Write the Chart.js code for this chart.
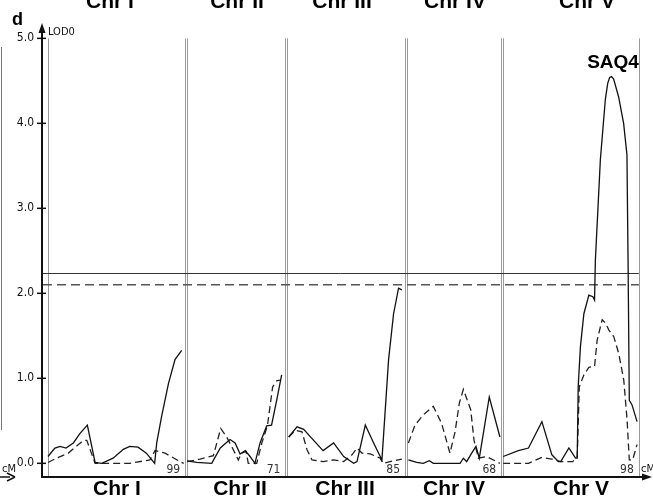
<!DOCTYPE html>
<html>
<head>
<meta charset="utf-8">
<script src="https://cdn.jsdelivr.net/npm/chart.js@4.4.0/dist/chart.umd.min.js"></script>
<style>
  html, body { margin: 0; padding: 0; background: #fff; }
</style>
</head>
<body>
<canvas id="myChart" width="653" height="502"></canvas>
<script>
/* globals Chart:false */
'use strict'

// chromosomes and lengths (cM)
const chrNames = ['Chr I', 'Chr II', 'Chr III', 'Chr IV', 'Chr V']
const chrLengths = [99, 71, 85, 68, 98]
const lodTicks = [0, 1, 2, 3, 4, 5]
const lodTickLabels = ['0.0', '1.0', '2.0', '3.0', '4.0', '5.0']
const thresholdSolid = 2.235
const thresholdDashed = 2.10
const peakLabel = 'SAQ4'

// [cM, LOD], solid curve
const chrISolid = [[0, 0.08], [5, 0.18], [8.7, 0.20], [13, 0.18], [18.3, 0.24], [23, 0.35], [28.4, 0.45], [34, 0.01], [38.8, 0], [47, 0.06], [54.4, 0.165], [59, 0.20], [65, 0.19], [71, 0.12], [77, 0], [78.5, 0.24], [82, 0.55], [87, 0.94], [91.7, 1.22], [96.5, 1.33]]
const chrIISolid = [[0, 0.03], [7, 0.01], [17.8, 0], [24, 0.18], [31, 0.28], [34.7, 0.24], [38.3, 0.11], [42, 0.15], [45.5, 0.08], [49, 0], [52.7, 0.24], [57.5, 0.44], [61, 0.45], [64.7, 0.74], [68.3, 1.04]]
const chrIIISolid = [[1, 0.31], [7, 0.43], [11.8, 0.40], [19, 0.27], [25.8, 0.15], [33.4, 0.24], [40.7, 0.08], [47.9, 0], [50.3, 0.02], [56.3, 0.45], [62.3, 0.24], [68.3, 0.04], [73.1, 1.22], [76.7, 1.76], [80.3, 2.06], [82.7, 2.04]]
const chrIVSolid = [[1, 0.04], [7, 0.01], [11.8, 0], [16.1, 0.03], [19, 0], [38.3, 0], [40.7, 0.06], [43.1, 0.02], [46.7, 0.12], [49.8, 0.20], [52.2, 0.06], [59.4, 0.78], [67.1, 0.31]]
const chrVSolid = [[0, 0.08], [11, 0.15], [18.3, 0.18], [28, 0.49], [35.2, 0.10], [40, 0.02], [41.6, 0.02], [47.5, 0.18], [52.3, 0.06], [53.5, 0.06], [54.2, 0.90], [55.8, 1.37], [58.3, 1.76], [61.9, 1.98], [64.8, 1.96], [66, 1.92], [66.6, 2.39], [70.2, 3.57], [73.8, 4.28], [75.5, 4.47], [76.9, 4.54], [78.3, 4.55], [79.8, 4.52], [83.4, 4.31], [87, 4.00], [89.4, 3.63], [90.2, 2.39], [91.1, 0.74], [93, 0.69], [96.7, 0.49]]

// [cM, LOD], dashed curve
const chrIDashed = [[0, 0.01], [6, 0.06], [14.7, 0.12], [25.5, 0.27], [28, 0.27], [34, 0], [59, 0], [73.6, 0.04], [77.3, 0.15], [84.5, 0.12], [95.3, 0.02], [98, 0]]
const chrIIDashed = [[0, 0.02], [9.4, 0.05], [19, 0.09], [24.3, 0.41], [28.6, 0.31], [33.4, 0.16], [37, 0.04], [39.4, 0.12], [42.6, 0.14], [44.2, 0], [50.3, 0], [54, 0.24], [58, 0.44], [61.8, 0.90], [64.7, 0.97], [67, 0.98]]
const chrIIIDashed = [[1, 0.31], [5.8, 0.39], [10.6, 0.37], [14.2, 0.16], [17.8, 0.04], [25.8, 0.02], [33.4, 0.04], [40.7, 0.02], [46.7, 0.10], [50.3, 0.18], [53.9, 0.12], [59.9, 0.11], [67.1, 0.06], [69, 0], [76.7, 0.03], [82.7, 0.05]]
const chrIVDashed = [[1, 0.24], [5.8, 0.45], [11.8, 0.57], [19, 0.67], [25, 0.47], [31, 0.12], [34.7, 0.37], [37.8, 0.71], [40.7, 0.87], [46, 0.63], [48.4, 0.27], [51.5, 0.06], [57.5, 0.08], [63.5, 0.03], [67, 0]]
const chrVDashed = [[0, 0], [18.3, 0], [28, 0.07], [35.2, 0.05], [41.6, 0.02], [50.3, 0.02], [53.5, 0.08], [55, 0.90], [58.3, 1.04], [61.9, 1.13], [66, 1.14], [67.9, 1.45], [71.5, 1.69], [73.9, 1.65], [76.3, 1.57], [79.9, 1.49], [83.5, 1.29], [87.1, 0.98], [89.5, 0.51], [91.1, 0.04], [93.5, 0.04], [96.7, 0.22]]

const solidCurves = [chrISolid, chrIISolid, chrIIISolid, chrIVSolid, chrVSolid]
const dashedCurves = [chrIDashed, chrIIDashed, chrIIIDashed, chrIVDashed, chrVDashed]

// chromosomes laid side by side with a small gap
const chrGap = 1.4
const chrOffsets = []
let acc = 0
chrLengths.forEach(len => { chrOffsets.push(acc); acc += len + chrGap })

const narrow = "'Liberation Sans Narrow', 'DejaVu Sans Condensed', sans-serif"
const bold = "bold {s}px 'Liberation Sans', Arial, sans-serif"

function toPoints(curve, i) {
  return curve.map(p => ({ x: chrOffsets[i] + p[0], y: p[1] }))
}

const datasets = []
solidCurves.forEach((c, i) => {
  datasets.push({ data: toPoints(c, i), borderColor: '#111', borderWidth: 1.3, pointRadius: 0, tension: 0, fill: false })
})
dashedCurves.forEach((c, i) => {
  datasets.push({ data: toPoints(c, i), borderColor: '#222', borderWidth: 1.3, borderDash: [7, 4], pointRadius: 0, tension: 0, fill: false })
})

function arrow(ctx, x, y, dir) {
  ctx.beginPath()
  if (dir === 'up') { ctx.moveTo(x, y); ctx.lineTo(x - 3.5, y + 10); ctx.lineTo(x + 3.5, y + 10) }
  else { ctx.moveTo(x, y); ctx.lineTo(x - 10, y - 3.5); ctx.lineTo(x - 10, y + 3.5) }
  ctx.closePath()
  ctx.fill()
}

const overlay = {
  id: 'overlay',
  beforeDatasetsDraw(chart) {
    const { ctx, scales: { x, y }, chartArea: a } = chart
    ctx.save()
    // chromosome borders (double grey lines)
    ctx.strokeStyle = '#9a9a9a'
    ctx.lineWidth = 1
    chrLengths.forEach((len, i) => {
      [chrOffsets[i], chrOffsets[i] + len].forEach(v => {
        const px = Math.round(x.getPixelForValue(v)) + 0.5
        ctx.beginPath()
        ctx.moveTo(px, y.getPixelForValue(5))
        ctx.lineTo(px, a.bottom)
        ctx.stroke()
      })
    })
    // thresholds
    const xEnd = x.getPixelForValue(chrOffsets[4] + chrLengths[4])
    ctx.strokeStyle = '#333'
    ctx.lineWidth = 1
    let py = Math.round(y.getPixelForValue(thresholdSolid)) + 0.5
    ctx.beginPath(); ctx.moveTo(a.left, py); ctx.lineTo(xEnd, py); ctx.stroke()
    ctx.strokeStyle = '#555'
    ctx.lineWidth = 1.5
    ctx.setLineDash([9, 5])
    py = y.getPixelForValue(thresholdDashed)
    ctx.beginPath(); ctx.moveTo(a.left + 1, py); ctx.lineTo(xEnd, py); ctx.stroke()
    ctx.restore()
  },
  afterDraw(chart) {
    const { ctx, scales: { x, y }, chartArea: a } = chart
    ctx.save()
    ctx.fillStyle = '#111'
    ctx.strokeStyle = '#111'
    // y axis
    ctx.lineWidth = 2
    ctx.beginPath(); ctx.moveTo(a.left, a.bottom); ctx.lineTo(a.left, a.top + 4); ctx.stroke()
    arrow(ctx, a.left, a.top - 2, 'up')
    // x axis
    ctx.beginPath(); ctx.moveTo(a.left - 1, a.bottom); ctx.lineTo(a.right, a.bottom); ctx.stroke()
    arrow(ctx, a.right + 4, a.bottom, 'right')
    // ticks
    ctx.lineWidth = 1.5
    ctx.font = '12px ' + narrow
    ctx.textAlign = 'right'
    ctx.textBaseline = 'middle'
    lodTicks.forEach((t, i) => {
      const py = y.getPixelForValue(t)
      ctx.beginPath(); ctx.moveTo(a.left - 5, py); ctx.lineTo(a.left + 4, py); ctx.stroke()
      ctx.fillText(lodTickLabels[i], a.left - 8, py)
    })
    // small labels
    ctx.font = '11px ' + narrow
    ctx.textAlign = 'left'
    ctx.textBaseline = 'alphabetic'
    ctx.fillText('LOD0', a.left + 6, 35)
    ctx.fillText('cM', 641, 472)
    ctx.fillText('cM', 2, 472)
    ctx.font = '12px ' + narrow
    ctx.fillStyle = '#333'
    ctx.textAlign = 'right'
    chrLengths.forEach((len, i) => {
      ctx.fillText(String(len), x.getPixelForValue(chrOffsets[i] + len) - 5, 473)
    })
    // left-edge remnants
    ctx.fillStyle = '#111'
    ctx.strokeStyle = '#777'
    ctx.lineWidth = 1
    ctx.beginPath(); ctx.moveTo(1.5, 47); ctx.lineTo(1.5, 430); ctx.stroke()
    ctx.strokeStyle = '#111'
    ctx.lineWidth = 1.5
    ctx.beginPath(); ctx.moveTo(0, 477); ctx.lineTo(10, 477); ctx.stroke()
    ctx.beginPath(); ctx.moveTo(15, 477); ctx.lineTo(7, 473); ctx.moveTo(15, 477); ctx.lineTo(7, 481); ctx.stroke()
    // chromosome names, top (cut off) and bottom
    ctx.fillStyle = '#000'
    ctx.textAlign = 'center'
    ctx.font = bold.replace('{s}', 21)
    const topX = [110, 237, 342, 455, 587]
    const botX = [117, 240, 345, 454, 581]
    chrNames.forEach((n, i) => {
      ctx.fillText(n, topX[i], 8)
      ctx.fillText(n, botX[i], 495)
    })
    // panel letter and QTL name
    ctx.font = bold.replace('{s}', 18)
    ctx.textAlign = 'left'
    ctx.fillText('d', 12, 25)
    ctx.font = bold.replace('{s}', 19)
    ctx.textAlign = 'center'
    ctx.fillText(peakLabel, 613, 68)
    ctx.restore()
  }
}

const ctx = document.getElementById('myChart')
// eslint-disable-next-line no-unused-vars
const myChart = new Chart(ctx, {
  type: 'line',
  data: { datasets: datasets },
  options: {
    responsive: false,
    animation: false,
    layout: { padding: { left: 42, right: 5, top: 25, bottom: 25 } },
    scales: {
      x: { type: 'linear', display: false, min: -4.33, max: 433.2 },
      y: { type: 'linear', display: false, min: -0.161, max: 5.157 }
    },
    plugins: {
      legend: { display: false },
      tooltip: { enabled: false }
    }
  },
  plugins: [overlay]
})
</script>
</body>
</html>
